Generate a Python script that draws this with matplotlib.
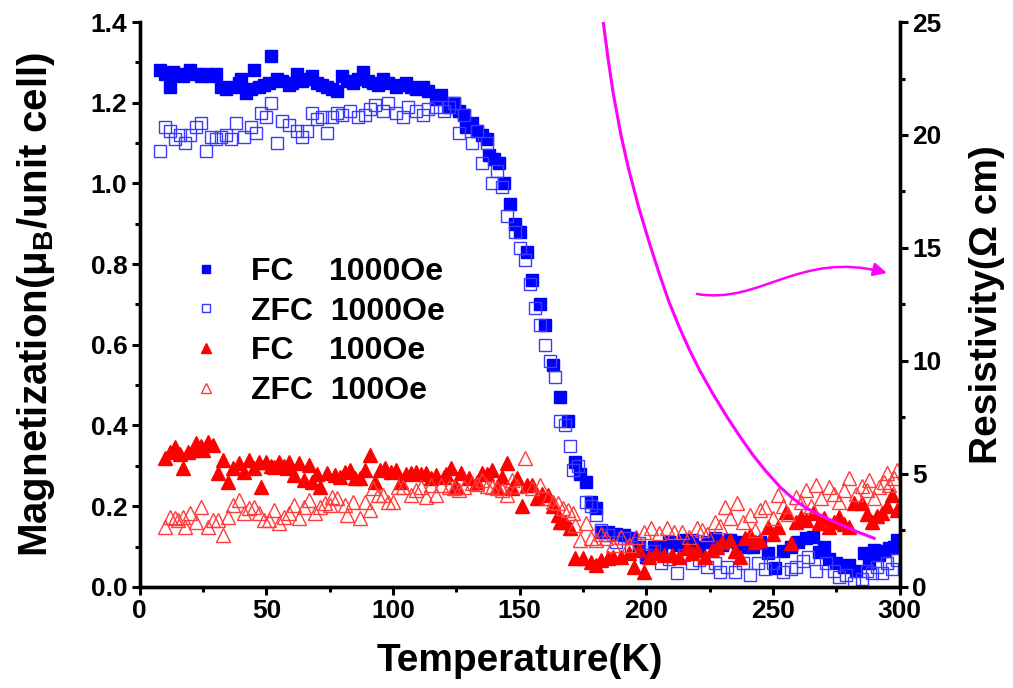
import numpy as np
import matplotlib
matplotlib.use("Agg")
import matplotlib.pyplot as plt
from matplotlib.path import Path
from matplotlib.patches import FancyArrowPatch
from matplotlib.ticker import MultipleLocator, FormatStrFormatter

plt.rcParams['font.family'] = ['Liberation Sans', 'DejaVu Sans']
plt.rcParams['font.weight'] = 'bold'
plt.rcParams['mathtext.fontset'] = 'custom'
plt.rcParams['mathtext.rm'] = 'Liberation Sans:bold'

# FC, 1000 Oe
t_fc1000 = [8, 10, 12, 13, 15, 17, 20, 22, 24, 26, 28, 30, 32, 34, 37, 39, 40, 42, 44, 45,
            47, 49, 51, 52, 54, 56, 59, 60, 62, 64, 66, 68, 70, 72, 74, 76, 78, 80, 82, 84,
            86, 88, 90, 92, 94, 96, 98, 101, 103, 105, 107, 109, 112, 114, 117, 119, 122, 124, 126, 128,
            129, 131, 133, 135, 137, 138, 140, 142, 144, 146, 148, 150, 153, 155, 158, 160, 163, 166, 169, 172,
            174, 176, 178, 180, 182, 185, 188, 191, 194, 197, 200, 203, 206, 209, 212, 215, 218, 221, 224, 227,
            230, 233, 236, 239, 242, 245, 248, 251, 254, 257, 260, 263, 266, 268, 270, 272, 275, 278, 280, 283,
            286, 288, 290, 292, 294, 296, 298, 299]
m_fc1000 = [1.28, 1.27, 1.24, 1.275, 1.27, 1.265, 1.28, 1.27, 1.265, 1.27, 1.265, 1.27, 1.24, 1.235, 1.24, 1.25, 1.26, 1.225, 1.235, 1.28,
            1.24, 1.245, 1.25, 1.315, 1.26, 1.255, 1.245, 1.25, 1.27, 1.255, 1.26, 1.265, 1.25, 1.245, 1.24, 1.235, 1.23, 1.265, 1.255, 1.25,
            1.26, 1.275, 1.255, 1.25, 1.245, 1.26, 1.25, 1.24, 1.245, 1.25, 1.24, 1.235, 1.24, 1.23, 1.21, 1.22, 1.19, 1.20, 1.18, 1.17,
            1.14, 1.15, 1.13, 1.12, 1.11, 1.07, 1.06, 1.05, 1.00, 0.95, 0.90, 0.88, 0.83, 0.76, 0.70, 0.65, 0.55, 0.47, 0.41, 0.31,
            0.28, 0.26, 0.21, 0.195, 0.135, 0.136, 0.13, 0.129, 0.12, 0.099, 0.074, 0.10, 0.099, 0.11, 0.105, 0.115, 0.117, 0.10, 0.111, 0.12,
            0.105, 0.117, 0.11, 0.10, 0.099, 0.11, 0.084, 0.047, 0.09, 0.10, 0.111, 0.12, 0.124, 0.087, 0.099, 0.07, 0.06, 0.05, 0.055, 0.04,
            0.084, 0.06, 0.092, 0.08, 0.09, 0.097, 0.10, 0.117]

# ZFC, 1000 Oe
t_zfc1000 = [8, 10, 12, 14, 16, 18, 20, 22, 24, 26, 28, 30, 32, 34, 36, 38, 41, 44, 46, 48,
             50, 52, 54, 56, 59, 62, 64, 66, 68, 70, 72, 74, 76, 78, 80, 83, 86, 89, 91, 93,
             96, 98, 101, 104, 106, 109, 112, 114, 117, 120, 122, 124, 126, 128, 131, 133, 135, 137, 139, 141,
             143, 145, 148, 150, 152, 154, 156, 158, 160, 162, 164, 166, 168, 170, 171, 173, 176, 178, 180, 182,
             185, 188, 191, 194, 197, 200, 203, 206, 209, 212, 215, 218, 221, 224, 227, 229, 232, 235, 238, 241,
             244, 247, 250, 254, 257, 259, 262, 264, 267, 271, 274, 276, 279, 282, 285, 287, 289, 291, 293, 295,
             297, 299]
m_zfc1000 = [1.08, 1.14, 1.13, 1.11, 1.12, 1.10, 1.12, 1.14, 1.15, 1.08, 1.115, 1.11, 1.115, 1.12, 1.11, 1.15, 1.115, 1.14, 1.125, 1.175,
             1.165, 1.20, 1.10, 1.155, 1.145, 1.13, 1.115, 1.13, 1.175, 1.16, 1.165, 1.125, 1.165, 1.175, 1.17, 1.18, 1.165, 1.17, 1.185, 1.195,
             1.18, 1.20, 1.175, 1.165, 1.19, 1.18, 1.17, 1.185, 1.19, 1.18, 1.19, 1.20, 1.125, 1.17, 1.10, 1.13, 1.05, 1.10, 1.00, 1.03,
             0.99, 0.92, 0.88, 0.84, 0.81, 0.75, 0.69, 0.65, 0.60, 0.56, 0.52, 0.41, 0.40, 0.35, 0.29, 0.30, 0.21, 0.20, 0.178, 0.141,
             0.129, 0.11, 0.121, 0.10, 0.109, 0.079, 0.09, 0.059, 0.07, 0.035, 0.079, 0.06, 0.067, 0.05, 0.06, 0.037, 0.05, 0.037, 0.06, 0.03,
             0.059, 0.045, 0.06, 0.037, 0.045, 0.05, 0.065, 0.074, 0.04, 0.059, 0.04, 0.025, 0.03, 0.01, 0.02, 0.04, 0.035, 0.05, 0.035, 0.06,
             0.045, 0.067]

# FC, 100 Oe
t_fc100 = [10, 12, 14, 16, 17, 19, 21, 22, 24, 25, 27, 29, 31, 33, 35, 37, 39, 41, 43, 45,
           47, 48, 50, 52, 53, 55, 57, 58, 59, 61, 63, 65, 67, 68, 70, 71, 74, 77, 79, 81,
           83, 85, 87, 89, 91, 93, 95, 97, 99, 101, 103, 105, 107, 109, 111, 113, 115, 117, 120, 121,
           123, 125, 127, 130, 133, 135, 137, 139, 141, 143, 145, 147, 149, 151, 153, 155, 157, 159, 161, 163,
           165, 166, 168, 170, 172, 175, 178, 180, 182, 185, 187, 190, 193, 195, 197, 199, 201, 204, 207, 210,
           213, 216, 218, 220, 223, 226, 228, 230, 233, 235, 237, 239, 241, 243, 245, 248, 250, 252, 255, 257,
           259, 261, 263, 266, 268, 270, 272, 274, 276, 278, 280, 282, 285, 287, 289, 291, 293, 295, 297, 299]
m_fc100 = [0.32, 0.335, 0.347, 0.33, 0.295, 0.335, 0.34, 0.357, 0.35, 0.34, 0.36, 0.352, 0.282, 0.315, 0.26, 0.295, 0.307, 0.285, 0.315, 0.295,
           0.31, 0.248, 0.31, 0.30, 0.297, 0.31, 0.30, 0.295, 0.31, 0.277, 0.307, 0.265, 0.302, 0.26, 0.28, 0.248, 0.282, 0.277, 0.272, 0.285,
           0.29, 0.27, 0.27, 0.29, 0.327, 0.26, 0.29, 0.295, 0.285, 0.29, 0.26, 0.28, 0.282, 0.285, 0.28, 0.282, 0.27, 0.277, 0.272, 0.28,
           0.295, 0.248, 0.282, 0.27, 0.26, 0.282, 0.28, 0.29, 0.248, 0.272, 0.307, 0.245, 0.27, 0.20, 0.253, 0.253, 0.22, 0.23, 0.228, 0.20,
           0.178, 0.161, 0.161, 0.146, 0.072, 0.072, 0.062, 0.055, 0.067, 0.072, 0.074, 0.074, 0.084, 0.05, 0.092, 0.037, 0.074, 0.084, 0.079, 0.079,
           0.074, 0.097, 0.085, 0.092, 0.074, 0.092, 0.10, 0.11, 0.117, 0.09, 0.074, 0.12, 0.129, 0.11, 0.117, 0.149, 0.13, 0.149, 0.186, 0.109,
           0.16, 0.173, 0.166, 0.183, 0.158, 0.17, 0.149, 0.16, 0.173, 0.155, 0.149, 0.208, 0.208, 0.18, 0.161, 0.175, 0.183, 0.20, 0.228, 0.191]

# ZFC, 100 Oe
t_zfc100 = [10, 12, 14, 15, 17, 18, 20, 22, 24, 27, 29, 31, 33, 35, 37, 39, 41, 43, 45, 47,
            49, 51, 53, 55, 57, 59, 61, 63, 65, 67, 69, 71, 73, 75, 76, 78, 81, 82, 84, 87,
            89, 91, 92, 94, 96, 98, 100, 102, 104, 107, 109, 111, 113, 115, 117, 119, 122, 124, 126, 128,
            131, 133, 135, 137, 139, 141, 143, 145, 147, 149, 152, 155, 158, 161, 163, 165, 167, 169, 171, 172,
            174, 176, 178, 180, 182, 184, 187, 190, 193, 196, 199, 202, 205, 208, 211, 214, 217, 220, 222, 224,
            227, 229, 231, 233, 236, 238, 241, 243, 245, 247, 250, 252, 254, 256, 259, 261, 263, 265, 267, 269,
            272, 274, 276, 278, 280, 283, 285, 287, 288, 290, 292, 294, 295, 296, 298, 299]
m_zfc100 = [0.149, 0.173, 0.171, 0.165, 0.173, 0.149, 0.183, 0.161, 0.198, 0.149, 0.166, 0.166, 0.129, 0.173, 0.203, 0.215, 0.183, 0.196, 0.198, 0.183,
            0.166, 0.166, 0.191, 0.158, 0.173, 0.183, 0.203, 0.171, 0.198, 0.215, 0.183, 0.198, 0.208, 0.203, 0.223, 0.22, 0.203, 0.178, 0.21, 0.171,
            0.21, 0.191, 0.245, 0.228, 0.228, 0.21, 0.21, 0.248, 0.248, 0.228, 0.24, 0.248, 0.223, 0.253, 0.228, 0.253, 0.248, 0.245, 0.24, 0.248,
            0.258, 0.255, 0.265, 0.25, 0.248, 0.245, 0.24, 0.228, 0.265, 0.25, 0.32, 0.245, 0.253, 0.22, 0.21, 0.208, 0.196, 0.19, 0.183, 0.154,
            0.117, 0.158, 0.121, 0.117, 0.13, 0.121, 0.104, 0.124, 0.104, 0.124, 0.136, 0.146, 0.134, 0.146, 0.136, 0.136, 0.124, 0.146, 0.141, 0.13,
            0.161, 0.15, 0.198, 0.17, 0.208, 0.16, 0.178, 0.14, 0.19, 0.198, 0.17, 0.228, 0.20, 0.18, 0.223, 0.21, 0.24, 0.20, 0.253, 0.22,
            0.248, 0.23, 0.21, 0.24, 0.27, 0.23, 0.25, 0.24, 0.265, 0.22, 0.248, 0.26, 0.282, 0.253, 0.27, 0.29]

# resistivity (Ohm cm)
t_rho = [183, 185, 187, 190, 193, 197, 201, 205, 209, 213, 217, 221, 226, 232, 237, 242,
         247, 253, 258, 263, 270, 276, 283, 290]
rho = [25.0, 23.3, 21.8, 20.0, 18.5, 16.8, 15.3, 13.9, 12.6, 11.5, 10.5, 9.6, 8.6, 7.5, 6.65, 5.85,
       5.15, 4.4, 3.9, 3.5, 3.1, 2.8, 2.45, 2.15]

labels = ['FC    1000Oe', 'ZFC  1000Oe', 'FC    100Oe', 'ZFC  100Oe']

fig = plt.figure(figsize=(10.13, 6.88), dpi=100)
ax = fig.add_axes([0.138, 0.147, 0.750, 0.821])

ax.plot(t_fc1000, m_fc1000, 's', ms=8, color='#0000ff', mec='#0000ff', label=labels[0])
ax.plot(t_zfc1000, m_zfc1000, 's', ms=8, mfc='none', mec='#3b3bff', mew=1.0, label=labels[1])
ax.plot(t_fc100, m_fc100, '^', ms=9.5, color='#ff0000', mec='#ff0000', label=labels[2])
ax.plot(t_zfc100, m_zfc100, '^', ms=9.5, mfc='none', mec='#ff3b3b', mew=1.0, label=labels[3])

ax.set_xlim(0, 300)
ax.set_ylim(0, 1.4)
ax.xaxis.set_major_locator(MultipleLocator(50))
ax.xaxis.set_minor_locator(MultipleLocator(25))
ax.yaxis.set_major_locator(MultipleLocator(0.2))
ax.yaxis.set_minor_locator(MultipleLocator(0.1))
ax.yaxis.set_major_formatter(FormatStrFormatter('%.1f'))

ax.set_xlabel('Temperature(K)', fontsize=28, fontweight='bold', labelpad=14)
ax.set_ylabel('Magnetization(μ$_{\\rm B}$/unit cell)', fontsize=29, fontweight='bold', labelpad=24)

ax2 = ax.twinx()
ax2.plot(t_rho, rho, '-', color='#ff00ff', lw=2.2)
ax2.set_ylim(0, 25)
ax2.yaxis.set_major_locator(MultipleLocator(5))
ax2.yaxis.set_minor_locator(MultipleLocator(2.5))
ax2.set_ylabel('Resistivity(Ω cm)', fontsize=28, fontweight='bold', labelpad=20)

for a in (ax, ax2):
    a.spines['top'].set_visible(False)
    for s in a.spines.values():
        s.set_linewidth(2.4)
    a.tick_params(which='major', direction='out', length=6, width=2.2, labelsize=19, pad=3)
    a.tick_params(which='minor', direction='out', length=3.5, width=2.2)
    for lab in a.get_xticklabels() + a.get_yticklabels():
        lab.set_fontweight('bold')

# curved arrow pointing at the right axis
verts = [(220.0, 0.726), (245.0, 0.699), (260.5, 0.835), (295.0, 0.778)]
path = Path(verts, [Path.MOVETO, Path.CURVE4, Path.CURVE4, Path.CURVE4])
arrow = FancyArrowPatch(path=path, arrowstyle='-|>,head_length=8,head_width=4',
                        color='#ff00ff', lw=1.8)
ax.add_patch(arrow)

leg = ax.legend(loc='upper left', bbox_to_anchor=(0.175, 0.645), bbox_transform=fig.transFigure,
                frameon=False, fontsize=23, markerscale=0.75, handletextpad=0.9,
                labelspacing=0.3, borderaxespad=0, handlelength=1.0)
for txt in leg.get_texts():
    txt.set_fontweight('bold')

fig.savefig('out.png', dpi=100)
